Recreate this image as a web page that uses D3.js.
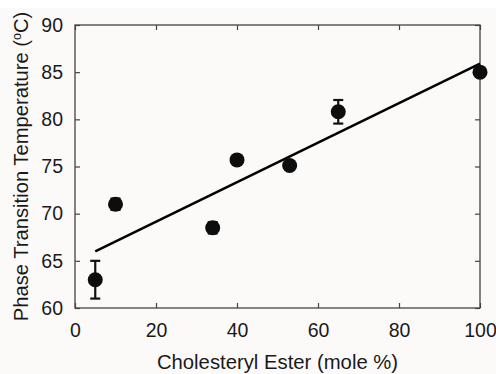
<!DOCTYPE html>
<html>
<head>
<meta charset="utf-8">
<script src="https://cdn.jsdelivr.net/npm/d3@7"></script>
<style>
  html, body { margin: 0; padding: 0; background: #fcfaf9; }
  svg { display: block; font-family: "Liberation Sans", Arial, sans-serif; }
</style>
</head>
<body>
<svg id="chart" width="496" height="374"></svg>
<script>
// measured points (mole % cholesteryl ester vs transition temp)
const esterPct = [5, 10, 34, 40, 53, 65, 100]
const phaseTemp = [63, 71, 68.5, 75.7, 75.1, 80.8, 85]
const tempErr = [2, 0.6, 0.6, 0, 0, 1.25, 0]

// linear fit line at its two ends
const fitX = [5, 100]
const fitY = [66, 85.9]

const xTicks = [0, 20, 40, 60, 80, 100]
const yTicks = [60, 65, 70, 75, 80, 85, 90]

const plotL = 75, plotR = 480, plotT = 25, plotB = 308

var svg = d3.select("#chart")

// white strip at the very top of the scan
svg.append("rect")
  .attr("x", 0).attr("y", 0)
  .attr("width", 496).attr("height", 8)
  .attr("fill", "#ffffff")

var x = d3.scaleLinear().domain([0, 100]).range([plotL, plotR])
var y = d3.scaleLinear().domain([60, 90]).range([plotB, plotT])

// ticks go inward on all four sides
const tickLen = 5
svg.append("g")
  .attr("transform", "translate(0," + plotB + ")")
  .call(d3.axisBottom(x).tickValues(xTicks).tickSizeInner(-tickLen).tickSizeOuter(0).tickPadding(15))
  .call(g => g.select(".domain").remove())
svg.append("g")
  .attr("transform", "translate(0," + plotT + ")")
  .call(d3.axisTop(x).tickValues(xTicks).tickSizeInner(-tickLen).tickSizeOuter(0).tickFormat(""))
  .call(g => g.select(".domain").remove())
svg.append("g")
  .attr("transform", "translate(" + plotL + ",0)")
  .call(d3.axisLeft(y).tickValues(yTicks).tickSizeInner(-tickLen).tickSizeOuter(0).tickPadding(12))
  .call(g => g.select(".domain").remove())
svg.append("g")
  .attr("transform", "translate(" + plotR + ",0)")
  .call(d3.axisRight(y).tickValues(yTicks).tickSizeInner(-tickLen).tickSizeOuter(0).tickFormat(""))
  .call(g => g.select(".domain").remove())

svg.selectAll(".tick line")
  .attr("stroke", "#444")
  .attr("stroke-width", 1.2)
svg.selectAll(".tick text")
  .attr("fill", "#1a1a1a")
  .style("font-size", "19.5px")
  .style("font-family", "Liberation Sans, Arial, sans-serif")

// frame
svg.append("rect")
  .attr("x", plotL).attr("y", plotT)
  .attr("width", plotR - plotL).attr("height", plotB - plotT)
  .attr("fill", "none")
  .attr("stroke", "#444")
  .attr("stroke-width", 1.3)

// fit line
svg.append("line")
  .attr("x1", x(fitX[0])).attr("y1", y(fitY[0]))
  .attr("x2", x(fitX[1])).attr("y2", y(fitY[1]))
  .attr("stroke", "#000")
  .attr("stroke-width", 2.5)

var pts = esterPct.map((d, i) => ({x: d, y: phaseTemp[i], e: tempErr[i]}))

// error bars
var eb = svg.append("g").selectAll("g")
  .data(pts.filter(d => d.e > 0))
  .enter()
  .append("g")
  .attr("stroke", "#111")
  .attr("stroke-width", 2.2)
eb.append("line")
  .attr("x1", d => x(d.x)).attr("x2", d => x(d.x))
  .attr("y1", d => y(d.y - d.e)).attr("y2", d => y(d.y + d.e))
eb.append("line")
  .attr("x1", d => x(d.x) - 5).attr("x2", d => x(d.x) + 5)
  .attr("y1", d => y(d.y + d.e)).attr("y2", d => y(d.y + d.e))
eb.append("line")
  .attr("x1", d => x(d.x) - 5).attr("x2", d => x(d.x) + 5)
  .attr("y1", d => y(d.y - d.e)).attr("y2", d => y(d.y - d.e))

svg.append("g").selectAll("circle")
  .data(pts)
  .enter()
  .append("circle")
  .attr("cx", d => x(d.x))
  .attr("cy", d => y(d.y))
  .attr("r", 7.5)
  .attr("fill", "#0d0d0d")

// axis titles
svg.append("text")
  .attr("x", (plotL + plotR) / 2)
  .attr("y", 369)
  .attr("text-anchor", "middle")
  .style("font-size", "20.3px")
  .attr("fill", "#1a1a1a")
  .text("Cholesteryl Ester (mole %)")

var yt = svg.append("text")
  .attr("transform", "translate(28," + ((plotT + plotB) / 2) + ") rotate(-90)")
  .attr("text-anchor", "middle")
  .style("font-size", "20.2px")
  .attr("fill", "#1a1a1a")
yt.append("tspan").text("Phase Transition Temperature (")
yt.append("tspan").attr("baseline-shift", "super").style("font-size", "12.5px").text("o")
yt.append("tspan").text("C)")
</script>
</body>
</html>
